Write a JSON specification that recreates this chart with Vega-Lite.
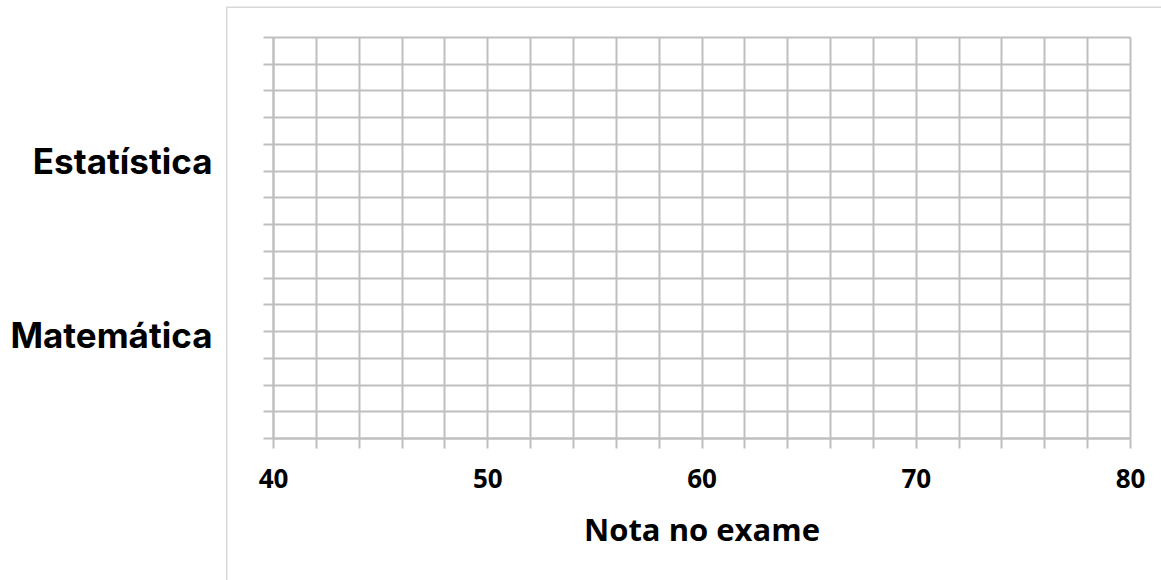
{
  "$schema": "https://vega.github.io/schema/vega-lite/v6.json",
  "width": 857,
  "height": 401,
  "autosize": {"type": "none"},
  "padding": {"left": 273, "top": 37, "right": 31, "bottom": 142},
  "background": "white",
  "config": {
    "view": {"stroke": null},
    "axis": {
      "gridColor": "#bfbfbf",
      "gridWidth": 2,
      "gridOpacity": 1,
      "domainColor": "#bfbfbf",
      "domainWidth": 2,
      "tickColor": "#bfbfbf",
      "tickWidth": 2,
      "tickSize": 10
    }
  },
  "data": {"values": [{"disciplina": "Estatística"}, {"disciplina": "Matemática"}]},
  "layer": [
    {
      "data": {"values": [{}]},
      "mark": {"type": "rect", "fillOpacity": 0, "stroke": "#d9d9d9", "strokeWidth": 1.5, "clip": false},
      "encoding": {
        "x": {
          "datum": 37.84,
          "type": "quantitative",
          "scale": {"domain": [40, 80], "nice": false, "zero": false},
          "axis": {
            "grid": true,
            "values": [40, 42, 44, 46, 48, 50, 52, 54, 56, 58, 60, 62, 64, 66, 68, 70, 72, 74, 76, 78, 80],
            "labelExpr": "datum.value % 10 === 0 ? datum.label : ''",
            "labelOverlap": false,
            "labelFont": "Open Sans",
            "labelFontWeight": "bold",
            "labelFontSize": 26,
            "labelColor": "#000000",
            "labelPadding": 18,
            "labelFlush": false,
            "title": "Nota no exame",
            "titleFont": "Open Sans",
            "titleFontWeight": "bold",
            "titleFontSize": 31,
            "titleColor": "#000000",
            "titlePadding": 24
          }
        },
        "x2": {"datum": 82},
        "y": {
          "datum": 16.11,
          "type": "quantitative",
          "scale": {"domain": [0, 15], "nice": false, "zero": false},
          "axis": {
            "grid": true,
            "values": [0, 1, 2, 3, 4, 5, 6, 7, 8, 9, 10, 11, 12, 13, 14, 15],
            "labels": false,
            "title": null,
            "orient": "left"
          }
        },
        "y2": {"datum": -6}
      }
    },
    {
      "mark": {"type": "point", "opacity": 0},
      "encoding": {
        "y": {
          "field": "disciplina",
          "type": "nominal",
          "sort": null,
          "scale": {"type": "point", "padding": 0.652, "align": 0.551},
          "axis": {
            "orient": "left",
            "ticks": false,
            "domain": false,
            "grid": false,
            "title": null,
            "labelFont": "Inter",
            "labelFontWeight": "bold",
            "labelFontSize": 35,
            "labelLimit": 400,
            "labelColor": "#000000",
            "labelPadding": 61
          }
        }
      }
    }
  ],
  "resolve": {"scale": {"y": "independent"}, "axis": {"y": "independent"}}
}
